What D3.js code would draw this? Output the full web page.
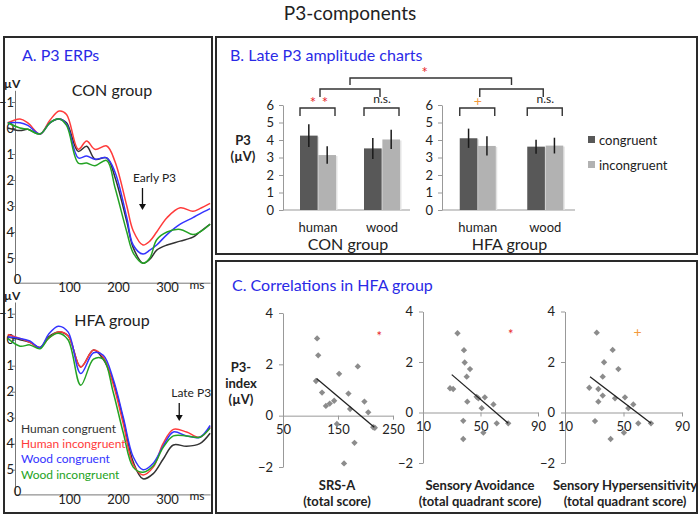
<!DOCTYPE html>
<html>
<head>
<meta charset="utf-8">
<script src="https://cdn.jsdelivr.net/npm/d3@7"></script>
<style>
  body { margin: 0; background: #fff; }
  text { font-family: Lato, "Open Sans", sans-serif; fill: #222; }
</style>
</head>
<body>
<div id="chart"></div>
<script>
// ---- ERP traces (ms, µV) ----
const conTimes = [-25, 0, 16, 41, 61, 80, 95, 119, 136, 153, 177, 194, 218, 231, 251, 265, 279, 300, 327, 353, 367, 388];
const conHumanCong   = [0, 0.1, 0.05, 0.23, -0.2, -0.35, -0.2, 0.9, 0.7, 1.2, 1.15, 1.9, 3.6, 4.6, 5.2, 5.05, 4.7, 4.5, 4.35, 4.2, 4.0, 3.7];
const conHumanIncong = [-0.2, -0.35, -0.2, 0.23, -0.3, -0.65, -0.52, 0.82, 0.5, 0.82, 0.69, 1.3, 3.0, 3.95, 4.5, 4.35, 4.0, 3.45, 3.07, 3.2, 3.1, 2.9];
const conWoodCong    = [-0.2, -0.2, -0.1, 0.23, -0.2, -0.35, -0.15, 1.15, 1.08, 1.2, 1.15, 1.7, 3.45, 4.5, 4.85, 4.7, 4.5, 4.1, 3.7, 3.45, 3.3, 3.1];
const conWoodIncong  = [-0.2, 0, 0.05, 0.23, -0.2, -0.35, -0.1, 1.35, 1.35, 1.45, 1.25, 2.3, 4.0, 4.8, 5.2, 5.0, 4.3, 4.0, 3.9, 4.1, 4.0, 3.7];

const hfaTimes = [-25, 0, 20, 41, 58, 78, 98, 124, 150, 170, 190, 211, 231, 251, 272, 292, 313, 340, 367, 388];
const hfaHumanCong   = [-0.1, 0.0, 0.1, 0.3, -0.1, -0.3, -0.15, 1.05, 0.4, 0.75, 1.6, 3.1, 4.7, 5.35, 5.15, 4.6, 4.05, 4.1, 4.0, 3.6];
const hfaHumanIncong = [-0.2, -0.05, 0.1, 0.3, -0.05, -0.3, -0.15, 1.05, 0.4, 0.67, 1.7, 3.25, 4.8, 5.2, 4.9, 4.0, 3.45, 3.55, 3.75, 3.35];
const hfaWoodCong    = [-0.1, -0.05, 0.05, 0.3, -0.2, -0.52, -0.3, 1.3, 0.5, 0.6, 1.5, 3.0, 4.5, 5.0, 4.75, 4.1, 3.55, 3.7, 3.75, 3.3];
const hfaWoodIncong  = [-0.05, 0.25, 0.2, 0.35, -0.05, -0.25, 0.0, 1.75, 0.75, 0.75, 2.0, 3.6, 4.9, 5.1, 4.85, 4.15, 3.7, 3.7, 3.75, 3.4];

const erpLabels = ["Human congruent", "Human incongruent", "Wood congruent", "Wood incongruent"];
const erpTicks = [-1, 0, 1, 2, 3, 4, 5];
const msTicks = [0, 100, 200, 300];

// ---- Late P3 amplitudes ----
const stimuli = ["human", "wood"];
const conditions = ["congruent", "incongruent"];
const conCongruent = [4.25, 3.52];
const conCongruentErr = [0.65, 0.6];
const conIncongruent = [3.14, 4.03];
const conIncongruentErr = [0.5, 0.55];
const hfaCongruent = [4.1, 3.62];
const hfaCongruentErr = [0.55, 0.4];
const hfaIncongruent = [3.66, 3.68];
const hfaIncongruentErr = [0.55, 0.45];
const barTicks = [0, 1, 2, 3, 4, 5, 6];

// ---- correlations (HFA) ----
const srsScore = [112, 114, 110, 121, 128, 135, 143, 152, 148, 169, 172, 186, 180, 161, 198, 205, 214, 217];
const srsP3    = [3.01, 2.35, 1.35, 0.9, 0.38, 0.47, 0.58, 1.63, -0.32, 0.86, 0.26, 1.92, -1.06, -1.86, 0.55, 0.13, -0.45, -0.47];
const avoidScore = [34, 38.5, 39, 42.7, 40.4, 28.8, 31, 40.8, 47.3, 48.5, 53, 50.8, 59, 61.3, 69.3, 38, 38, 52];
const avoidP3    = [3.14, 2.47, 1.98, 1.72, 1.42, 0.96, 0.93, 0.43, 0.62, 0.56, 0.6, 0.17, 0.32, -0.43, -0.43, -0.33, -1.05, -0.8];
const hyperScore = [31.7, 42.6, 36.7, 46.5, 35.8, 26.6, 32.8, 35.8, 32.8, 44.2, 51, 56.7, 53.3, 30.5, 60.1, 68.8, 41.2, 50.3];
const hyperP3    = [3.16, 2.48, 1.99, 1.72, 1.42, 0.98, 0.93, 0.67, 0.43, 0.56, 0.6, 0.32, 0.17, -0.34, -0.43, -0.43, -1.05, -0.8];
const srsTrend = [[111, 1.45], [216, -0.45]];
const avoidTrend = [[30, 1.5], [69.3, -0.43]];
const hyperTrend = [[27.1, 1.42], [68.8, -0.43]];
const p3Ticks = [-2, 0, 2, 4];

const blue = "#2a2ae6";
const lineColors = ["#333333", "#ff3b3b", "#3434ff", "#24a324"];
const red = "#e8262a", orange = "#f39a3c";
const fmt = d3.format("d");

const svg = d3.select("#chart").append("svg")
  .attr("width", 700)
  .attr("height", 516);

// title
svg.append("text").attr("x", 350).attr("y", 20).attr("text-anchor", "middle")
  .style("font-size", "19px").text("P3-components");

// panel frames
const frames = [[4, 37, 208, 476], [216, 37, 481, 217], [216, 261, 481, 252]];
svg.selectAll("rect.frame").data(frames).enter().append("rect")
  .attr("class", "frame")
  .attr("x", d => d[0]).attr("y", d => d[1])
  .attr("width", d => d[2]).attr("height", d => d[3])
  .attr("fill", "none").attr("stroke", "#2a2a2a").attr("stroke-width", 2);

const titles = [[22, "A. P3 ERPs"], [230, "B. Late P3 amplitude charts"]];
svg.selectAll("text.ptitle").data(titles).enter().append("text")
  .attr("class", "ptitle")
  .attr("x", d => d[0]).attr("y", 61)
  .style("font-size", "16px").style("fill", blue)
  .text(d => d[1]);
svg.append("text").attr("x", 232).attr("y", 291)
  .style("font-size", "16px").style("fill", blue)
  .text("C. Correlations in HFA group");

// ================= A. ERPs =================
const xERP = d3.scaleLinear().domain([-10.2, 387.8]).range([15, 210]);

function drawERP(top, times, series, groupLabel, labelY) {
  const y = d3.scaleLinear().domain([-1.45, 5.95]).range([top, top + 192.4]);
  const g = svg.append("g");

  g.append("g")
    .attr("transform", "translate(15,0)")
    .call(d3.axisLeft(y).tickValues(erpTicks).tickSize(3).tickSizeOuter(0).tickFormat(fmt))
    .call(a => a.select(".domain").attr("stroke", "#777"))
    .call(a => a.selectAll(".tick line").attr("stroke", "#777"))
    .call(a => a.selectAll("text").attr("x", -1).style("font-size", "13px").style("font-family", "Lato, sans-serif").attr("fill", "#222"));

  const base = y.range()[1];
  g.append("g")
    .attr("transform", `translate(0,${base})`)
    .call(d3.axisBottom(xERP).tickValues(msTicks).tickSize(0).tickSizeOuter(0).tickFormat(fmt))
    .call(a => a.select(".domain").attr("stroke", "#777"))
    .call(a => a.selectAll("text").attr("dy", "0.5em").style("font-size", "13px").style("font-family", "Lato, sans-serif").attr("fill", "#222"))
    .call(a => a.selectAll(".tick").filter(d => d === 0).select("text").attr("dx", "-3px").attr("dy", "-0.1em"));
  g.append("text").attr("x", 197).attr("y", base + 6).attr("text-anchor", "middle")
    .style("font-size", "12px").text("ms");
  g.append("text").attr("x", 4).attr("y", top - 2)
    .style("font-size", "12px").style("font-weight", "bold").text("µV");

  g.append("text").attr("x", 112).attr("y", labelY)
    .attr("text-anchor", "middle").style("font-size", "16px").text(groupLabel);

  const line = d3.line()
    .x((d, i) => xERP(times[i]))
    .y(d => y(d))
    .curve(d3.curveCatmullRom.alpha(0.5));

  g.selectAll("path.erp").data(series).enter().append("path")
    .attr("class", "erp")
    .attr("d", d => line(d))
    .attr("fill", "none")
    .attr("stroke", (d, i) => lineColors[i])
    .attr("stroke-width", 1.5);
  return y;
}

drawERP(90.3, conTimes, [conHumanCong, conHumanIncong, conWoodCong, conWoodIncong], "CON group", 96);
drawERP(302, hfaTimes, [hfaHumanCong, hfaHumanIncong, hfaWoodCong, hfaWoodIncong], "HFA group", 326);

// annotations
function arrowNote(x, label, y0, y1) {
  svg.append("text").attr("x", x + 12).attr("y", y0 - 6).attr("text-anchor", "middle")
    .style("font-size", "12px").text(label);
  svg.append("line").attr("x1", x).attr("x2", x).attr("y1", y0).attr("y2", y1 - 5)
    .attr("stroke", "#111").attr("stroke-width", 1.3);
  svg.append("path").attr("d", `M${x - 3.5},${y1 - 6} L${x + 3.5},${y1 - 6} L${x},${y1} Z`).attr("fill", "#111");
}
arrowNote(xERP(250), "Early P3", 188, 210);
arrowNote(xERP(325), "Late P3", 403, 421);

svg.selectAll("text.erpleg").data(erpLabels).enter().append("text")
  .attr("class", "erpleg")
  .attr("x", 21).attr("y", (d, i) => 433 + i * 15.2)
  .style("font-size", "12px").style("fill", (d, i) => lineColors[i])
  .text(d => d);

// ================= B. bar charts =================
const yBar = d3.scaleLinear().domain([0, 6]).range([210, 105]);
const inner = d3.scaleBand().domain(conditions).range([-18, 18]).paddingInner(0.04);
const barColors = { congruent: "#585858", incongruent: "#b2b2b2" };

function drawBars(axisX, bandRange, congr, congrErr, incongr, incongrErr, groupLabel) {
  const xb = d3.scaleBand().domain(stimuli).range(bandRange);
  const g = svg.append("g");
  g.append("g").attr("transform", `translate(${axisX},0)`)
    .call(d3.axisLeft(yBar).tickValues(barTicks).tickSize(4).tickSizeOuter(0).tickFormat(fmt))
    .call(a => a.select(".domain").attr("stroke", "#999"))
    .call(a => a.selectAll(".tick line").attr("stroke", "#999"))
    .call(a => a.selectAll("text").attr("x", -9).style("font-size", "13px").style("font-family", "Lato, sans-serif").attr("fill", "#222"));
  g.append("line").attr("x1", axisX).attr("x2", bandRange[1] - 4)
    .attr("y1", yBar(0)).attr("y2", yBar(0)).attr("stroke", "#999");

  const rows = [];
  stimuli.forEach((s, i) => {
    rows.push({ s, c: "congruent", v: congr[i], e: congrErr[i] });
    rows.push({ s, c: "incongruent", v: incongr[i], e: incongrErr[i] });
  });
  const bx = d => xb(d.s) + xb.bandwidth() / 2 + inner(d.c);

  g.selectAll("rect.sh").data(rows).enter().append("rect")
    .attr("x", d => bx(d) + 1.5).attr("y", d => yBar(d.v) + 1)
    .attr("width", inner.bandwidth()).attr("height", d => yBar(0) - yBar(d.v) - 1)
    .attr("fill", "#e3e3e3");
  g.selectAll("rect.bar").data(rows).enter().append("rect")
    .attr("x", d => bx(d)).attr("y", d => yBar(d.v))
    .attr("width", inner.bandwidth()).attr("height", d => yBar(0) - yBar(d.v))
    .attr("fill", d => barColors[d.c]);
  g.selectAll("line.err").data(rows).enter().append("line")
    .attr("x1", d => bx(d) + inner.bandwidth() / 2).attr("x2", d => bx(d) + inner.bandwidth() / 2)
    .attr("y1", d => yBar(d.v + d.e)).attr("y2", d => yBar(d.v - d.e))
    .attr("stroke", "#1a1a1a").attr("stroke-width", 1.5);

  g.selectAll("text.cat").data(stimuli).enter().append("text")
    .attr("x", d => xb(d) + xb.bandwidth() / 2).attr("y", 232)
    .attr("text-anchor", "middle").style("font-size", "13px").text(d => d);
  g.append("text").attr("x", (bandRange[0] + bandRange[1]) / 2 - 2).attr("y", 250)
    .attr("text-anchor", "middle").style("font-size", "16px").text(groupLabel);
  return xb;
}

const xCon = drawBars(283, [286, 414], conCongruent, conCongruentErr, conIncongruent, conIncongruentErr, "CON group");
const xHfa = drawBars(442, [444, 579], hfaCongruent, hfaCongruentErr, hfaIncongruent, hfaIncongruentErr, "HFA group");

svg.append("text").attr("x", 243).attr("y", 145).attr("text-anchor", "middle")
  .style("font-size", "13px").style("font-weight", "bold").text("P3");
svg.append("text").attr("x", 243).attr("y", 161).attr("text-anchor", "middle")
  .style("font-size", "13px").style("font-weight", "bold").text("(µV)");

// legend
const leg = svg.selectAll("g.bleg").data(conditions).enter().append("g")
  .attr("transform", (d, i) => `translate(588,${140 + i * 25})`);
leg.append("rect").attr("x", 0).attr("y", -4).attr("width", 7).attr("height", 7)
  .attr("fill", d => barColors[d]);
leg.append("text").attr("x", 11).attr("y", 4.5).style("font-size", "13px").text(d => d);

// significance brackets
function bracket(x1, x2, yTop, legLen) {
  svg.append("path")
    .attr("d", `M${x1},${yTop + legLen} L${x1},${yTop} L${x2},${yTop} L${x2},${yTop + legLen}`)
    .attr("fill", "none").attr("stroke", "#333").attr("stroke-width", 1.4);
}
function mark(x, y, txt, color, size) {
  svg.append("text").attr("x", x).attr("y", y).attr("text-anchor", "middle")
    .style("font-size", size).style("fill", color).text(txt);
}
const mids = [];
[xCon, xHfa].forEach((xb, gi) => {
  const m = [];
  stimuli.forEach(s => {
    const c = xb(s) + xb.bandwidth() / 2;
    bracket(c - 18, c + 17, 108, 8);
    m.push(c);
  });
  const l = m[0] + 2, r = m[1] - 2;
  bracket(l, r, 89, 8);
  mids.push((l + r) / 2);
  if (gi === 0) {
    mark(m[0] - 5, 108, "*", red, "15px");
    mark(m[0] + 7, 108, "*", red, "15px");
  } else {
    mark(m[0], 106, "+", orange, "14px");
  }
  mark(m[1], 103, "n.s.", "#222", "12px");
});
bracket(mids[0], mids[1], 78, 7);
mark((mids[0] + mids[1]) / 2 - 6, 78, "*", red, "15px");

// ================= C. scatter plots =================
function scatter(opts) {
  const x = d3.scaleLinear().domain(opts.xDomain).range(opts.xRange);
  const y = d3.scaleLinear().domain([-2, 4]).range(opts.yRange);
  const g = svg.append("g");
  g.append("g").attr("transform", `translate(${opts.xRange[0]},0)`)
    .call(d3.axisLeft(y).tickValues(p3Ticks).tickSize(4).tickSizeOuter(0).tickFormat(fmt))
    .call(a => a.select(".domain").attr("stroke", "#999"))
    .call(a => a.selectAll(".tick line").attr("stroke", "#999"))
    .call(a => a.selectAll("text").attr("x", -10).style("font-size", "13px").style("font-family", "Lato, sans-serif").attr("fill", "#222"));
  g.append("g").attr("transform", `translate(0,${y(0)})`)
    .call(d3.axisBottom(x).tickValues(opts.xTicks).tickSize(4).tickSizeOuter(0).tickFormat(fmt))
    .call(a => a.select(".domain").attr("stroke", "#999"))
    .call(a => a.selectAll(".tick line").attr("stroke", "#999"))
    .call(a => a.selectAll("text").attr("dy", "0.9em").style("font-size", "13px").style("font-family", "Lato, sans-serif").attr("fill", "#222"));

  const pts = opts.xs.map((v, i) => [v, opts.ys[i]]);
  g.selectAll("path.pt").data(pts).enter().append("path")
    .attr("d", d3.symbol(d3.symbolSquare, 20))
    .attr("transform", d => `translate(${x(d[0])},${y(d[1])}) rotate(45)`)
    .attr("fill", "#8c8c8c");
  g.append("path")
    .attr("d", d3.line().x(d => x(d[0])).y(d => y(d[1]))(opts.trend))
    .attr("stroke", "#222").attr("stroke-width", 1.3).attr("fill", "none");

  const cx = opts.labelX;
  g.append("text").attr("x", cx).attr("y", 490).attr("text-anchor", "middle")
    .style("font-size", "13px").style("font-weight", "bold").text(opts.label1);
  g.append("text").attr("x", cx).attr("y", 506).attr("text-anchor", "middle")
    .style("font-size", "13px").style("font-weight", "bold").text(opts.label2);
  const plus = opts.sig[2] === "+";
  mark(x(opts.sig[0]), y(opts.sig[1]) + (plus ? 5 : 7), opts.sig[2], opts.sig[3], plus ? "14px" : "13px");
}

scatter({ xDomain: [50, 250], xRange: [283, 393], yRange: [467, 313], xTicks: [50, 150, 250],
  xs: srsScore, ys: srsP3, trend: srsTrend, labelX: 337, label1: "SRS-A", label2: "(total score)",
  sig: [225, 3.2, "*", red] });
scatter({ xDomain: [10, 90], xRange: [423, 538], yRange: [463, 311.5], xTicks: [10, 50, 90],
  xs: avoidScore, ys: avoidP3, trend: avoidTrend, labelX: 480, label1: "Sensory Avoidance", label2: "(total quadrant score)",
  sig: [71, 3.2, "*", red] });
scatter({ xDomain: [10, 90], xRange: [565, 682], yRange: [463, 311.5], xTicks: [10, 50, 90],
  xs: hyperScore, ys: hyperP3, trend: hyperTrend, labelX: 625, label1: "Sensory Hypersensitivity", label2: "(total quadrant score)",
  sig: [59.7, 3.2, "+", orange] });

["P3-", "index", "(µV)"].forEach((t, i) => {
  svg.append("text").attr("x", 241).attr("y", 372 + i * 16).attr("text-anchor", "middle")
    .style("font-size", "13px").style("font-weight", "bold").text(t);
});
</script>
</body>
</html>
